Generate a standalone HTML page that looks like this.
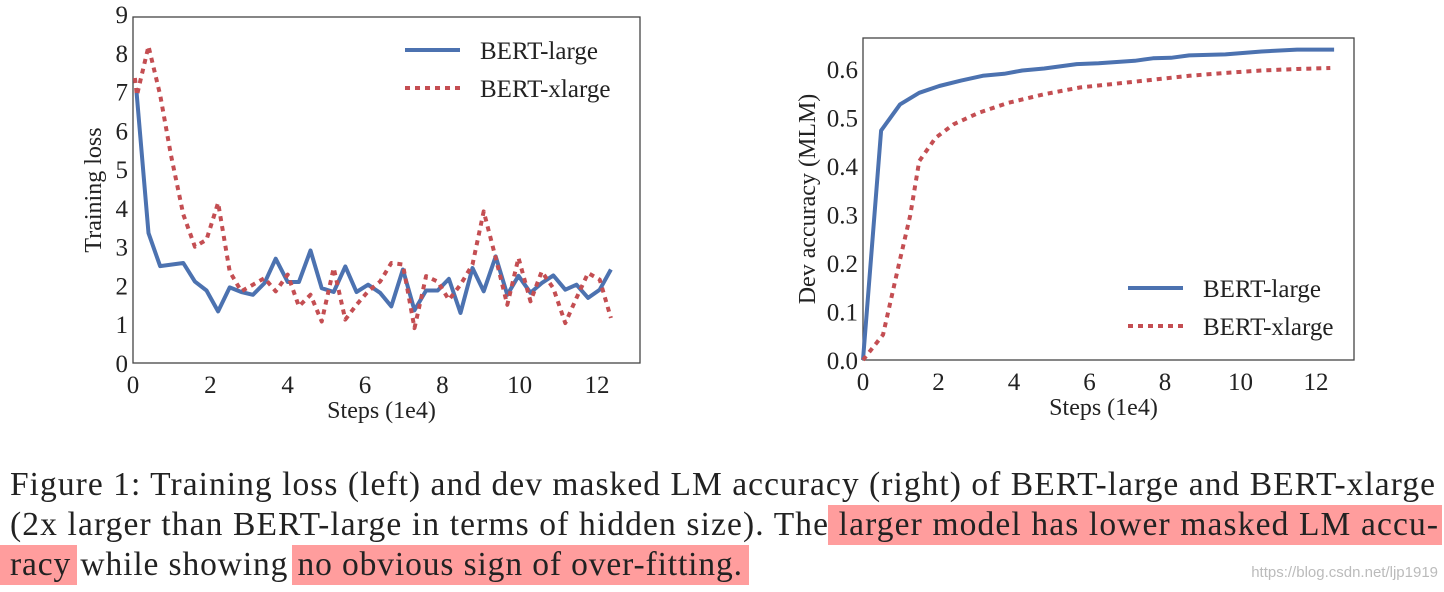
<!DOCTYPE html>
<html><head><meta charset="utf-8"><style>
body{margin:0;background:#fff}
svg text{font-family:"Liberation Serif",serif;fill:#222}
</style></head><body>
<svg id="s" width="1444" height="587" viewBox="0 0 1444 587" xmlns="http://www.w3.org/2000/svg">
<g id="left"></g>
<g id="right"></g>
<g>
<rect x="828" y="505" width="614" height="40" fill="#ff9d9d"/>
<rect x="0" y="545" width="77" height="40" fill="#ff9d9d"/>
<rect x="292" y="545" width="457" height="40" fill="#ff9d9d"/>
<text x="10" y="495" font-size="33.5" textLength="1425" lengthAdjust="spacing">Figure 1: Training loss (left) and dev masked LM accuracy (right) of BERT-large and BERT-xlarge</text>
<text x="10" y="535" font-size="33.5" textLength="1428" lengthAdjust="spacing">(2x larger than BERT-large in terms of hidden size). The larger model has lower masked LM accu-</text>
<text x="10" y="575" font-size="33.5" textLength="732" lengthAdjust="spacing">racy while showing no obvious sign of over-fitting.</text>
<text x="1438" y="577" font-size="15" text-anchor="end" style="fill:#bbb;font-family:'Liberation Sans',sans-serif">https://blog.csdn.net/ljp1919</text>
</g>
</svg>
<script>
const lossSteps=[0.09,0.4,0.7,1.3,1.6,1.9,2.2,2.5,2.8,3.1,3.4,3.69,4.0,4.29,4.59,4.88,5.19,5.49,5.78,6.08,6.39,6.68,6.98,7.28,7.58,7.88,8.17,8.47,8.78,9.07,9.38,9.68,9.97,10.28,10.57,10.87,11.18,11.47,11.77,12.07,12.36];
const lossLarge=[7.0,3.35,2.5,2.58,2.1,1.87,1.33,1.95,1.83,1.76,2.06,2.69,2.09,2.09,2.9,1.93,1.83,2.49,1.83,2.02,1.81,1.46,2.41,1.36,1.87,1.87,2.17,1.29,2.45,1.85,2.75,1.76,2.25,1.81,2.06,2.26,1.89,2.02,1.68,1.89,2.41];
const lossXSteps=[0.05,0.1,0.4,0.7,0.98,1.3,1.6,1.9,2.2,2.5,2.8,3.1,3.4,3.69,4.0,4.29,4.59,4.88,5.19,5.49,5.78,6.08,6.39,6.68,6.98,7.28,7.58,7.88,8.17,8.47,8.78,9.07,9.38,9.68,9.97,10.28,10.57,10.87,11.18,11.47,11.77,12.07,12.36];
const lossXlarge=[7.35,6.9,8.17,6.92,5.37,3.83,3.0,3.18,4.13,2.36,1.85,2.02,2.19,1.85,2.28,1.46,1.76,1.07,2.45,1.12,1.5,1.85,2.1,2.58,2.54,0.9,2.24,2.1,1.63,2.02,2.54,3.91,2.71,1.5,2.71,1.59,2.36,1.93,1.03,1.68,2.32,2.15,1.16];
const lossYTicks=[0,1,2,3,4,5,6,7,8,9];
const xTicks=[0,2,4,6,8,10,12];
const accStepsL=[0,0.48,0.98,1.49,2.02,2.6,3.17,3.74,4.22,4.8,5.66,6.24,7.2,7.68,8.16,8.64,9.6,10.56,11.5,12.48];
const accLarge=[0,0.473,0.527,0.551,0.565,0.576,0.586,0.59,0.597,0.601,0.61,0.612,0.617,0.622,0.623,0.628,0.63,0.636,0.64,0.64];
const accStepsX=[0,0.53,0.96,1.25,1.49,1.92,2.4,3.07,3.84,4.8,5.76,6.72,7.68,8.64,9.6,10.56,11.5,12.38];
const accXlarge=[0,0.052,0.2,0.298,0.41,0.458,0.486,0.51,0.53,0.548,0.562,0.57,0.578,0.586,0.592,0.597,0.6,0.602];
const accYTicks=[0.0,0.1,0.2,0.3,0.4,0.5,0.6];
const NS='http://www.w3.org/2000/svg';
function mk(p,tag,a,txt){const e=document.createElementNS(NS,tag);for(const k in a)e.setAttribute(k,a[k]);if(txt!==undefined)e.textContent=txt;p.appendChild(e);return e;}
function chart(g,o){
 const sx=v=>o.x0+(v-0)*(o.x1-o.x0)/(o.xmax), sy=v=>o.y0-(v-o.ymin)*(o.y0-o.y1)/(o.ymax-o.ymin);
 const fr=mk(g,'rect',{x:o.x0,y:o.top,width:o.right-o.x0,height:o.y0-o.top,fill:'none',stroke:'#444','stroke-width':1.3});
 
 
 o.yt.forEach(v=>{const t=mk(g,'text',{x:o.x0-5,y:sy(v)+9,'font-size':25,'text-anchor':'end'},o.fmt(v));
  
  });
 xTicks.forEach(v=>{const t=mk(g,'text',{x:sx(v),y:o.y0+30,'font-size':25,'text-anchor':'middle'},String(v));
  
  });
 const xl=mk(g,'text',{x:(o.x0+o.right)/2-5,y:o.y0+55,'font-size':24,'text-anchor':'middle'},'Steps (1e4)');
 
 
 const yl=mk(g,'text',{x:0,y:0,'font-size':24,'text-anchor':'middle',transform:`translate(${o.ylx},${(o.top+o.y0)/2}) rotate(-90)`},o.ylabel);
 
 
 o.series.forEach(s=>{
  const pts=s.x.map((v,i)=>sx(v).toFixed(1)+','+sy(s.y[i]).toFixed(1)).join(' ');
  const l=mk(g,'polyline',{points:pts,fill:'none',stroke:s.c,'stroke-width':4,'stroke-linejoin':'round'});
  if(s.dash)l.setAttribute('stroke-dasharray','5,5');
  
  
 });
 o.series.forEach((s,i)=>{
  const y=o.ly+i*38;
  const l=mk(g,'line',{x1:o.lx,x2:o.lx+55,y1:y,y2:y,stroke:s.c,'stroke-width':4});
  if(s.dash)l.setAttribute('stroke-dasharray','5,5');
  
  
  const t=mk(g,'text',{x:o.lx+75,y:y+9,'font-size':25},s.label);
  
  
 });
}
const B='#4c72b0',R='#c44e52';
chart(document.getElementById('left'),{x0:133,x1:597,xmax:12,right:640,top:17,y0:363,y1:14,ymin:0,ymax:9,yt:lossYTicks,fmt:v=>String(v),ylabel:'Training loss',ylx:101,lx:405,ly:50,
 series:[{x:lossSteps,y:lossLarge,c:B,name:'bert-large',label:'BERT-large'},{x:lossXSteps,y:lossXlarge,c:R,dash:1,name:'bert-xlarge',label:'BERT-xlarge'}]});
chart(document.getElementById('right'),{x0:863,x1:1316,xmax:12,right:1354,top:38,y0:360,y1:69,ymin:0,ymax:0.6,yt:accYTicks,fmt:v=>v.toFixed(1),ylabel:'Dev accuracy (MLM)',ylx:815,lx:1128,ly:288,
 series:[{x:accStepsL,y:accLarge,c:B,name:'bert-large',label:'BERT-large'},{x:accStepsX,y:accXlarge,c:R,dash:1,name:'bert-xlarge',label:'BERT-xlarge'}]});
</script>
</body></html>
